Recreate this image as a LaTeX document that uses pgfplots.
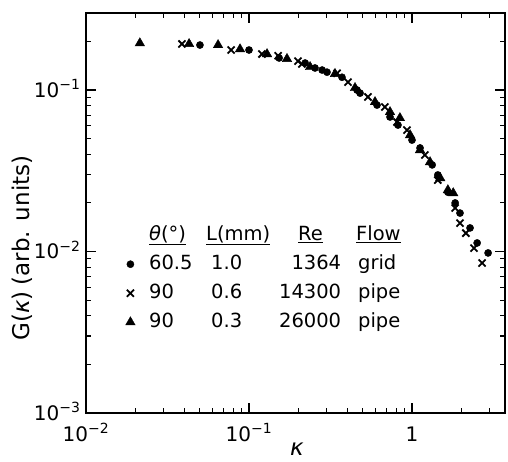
\documentclass[border=0pt]{standalone}
\usepackage{fontspec}
\setmainfont{DejaVu Sans}
\usepackage{pgfplots}
\pgfplotsset{compat=1.18}

% column boxes for the legend table
\newcommand{\cA}[1]{\makebox[62pt][l]{#1}}
\newcommand{\cB}[1]{\makebox[70pt][l]{#1}}
\newcommand{\cC}[1]{\makebox[60pt][r]{#1}}

\begin{document}
\begin{tikzpicture}
\path[use as bounding box] (-86pt,-48pt) rectangle (422pt,413pt);
\begin{axis}[
    scale only axis,
    width=419pt, height=400pt,
    xmode=log, ymode=log,
    xmin=0.01, xmax=3.72,
    ymin=1e-3, ymax=0.3,
    axis line style={line width=1.6pt},
    tick align=inside,
    major tick length=10pt, minor tick length=5pt,
    every tick/.style={black, line width=1.1pt},
    xtick={0.01,0.1,1},
    xticklabels={10\textsuperscript{−2},10\textsuperscript{−1},1},
    minor xtick={0.02,0.03,0.04,0.05,0.06,0.07,0.08,0.09,0.2,0.3,0.4,0.5,0.6,0.7,0.8,0.9,2,3},
    ytick={0.001,0.01,0.1},
    yticklabels={10\textsuperscript{−3},10\textsuperscript{−2},10\textsuperscript{−1}},
    minor ytick={0.002,0.003,0.004,0.005,0.006,0.007,0.008,0.009,0.02,0.03,0.04,0.05,0.06,0.07,0.08,0.09,0.2},
    xticklabel style={font=\fontsize{20}{24}\selectfont, anchor=base, yshift=-28pt},
    yticklabel style={font=\fontsize{20}{24}\selectfont, anchor=base east, xshift=-2pt, yshift=-7pt},
    xlabel={\itshape κ},
    xlabel style={font=\fontsize{23}{27}\selectfont, at={(axis description cs:0.5036,-0.09)}, anchor=center, inner sep=0pt},
    ylabel={G(\textit{κ})\hspace{6pt}(arb. units)},
    ylabel style={font=\fontsize{23}{27}\selectfont, at={(axis description cs:-0.1527,0.4125)}, anchor=center},
    legend cell align=left,
    legend style={at={(axis description cs:0.078,0.48)}, anchor=north west,
      draw=none, fill=none, font=\fontsize{19.5}{23}\selectfont,
      row sep=5pt,
      /tikz/every odd column/.append style={column sep=12pt},
      nodes={inner sep=2pt, text height=15pt, text depth=5pt}},
  ]

  \addlegendimage{empty legend}
  \addlegendentry{\makebox[57pt][l]{\underline{\textit{θ}(°)}}\makebox[92pt][l]{\underline{L(mm)}}\makebox[58pt][l]{\underline{Re}}\underline{Flow}}

  % grid flow, theta = 60.5
  \addplot[only marks, mark=*, mark size=3.6pt, black] coordinates {
    (0.0500,0.190) (0.100,0.177) (0.153,0.158) (0.221,0.147) (0.254,0.137)
    (0.281,0.133) (0.301,0.129) (0.372,0.120) (0.460,0.100) (0.480,0.0957)
    (0.610,0.0807) (0.733,0.0681) (0.820,0.0607) (1.00,0.0490) (1.12,0.0438)
    (1.33,0.0344) (1.44,0.0298) (1.66,0.0233) (1.84,0.0200) (1.97,0.0173)
    (2.27,0.0140) (2.51,0.0113) (2.93,0.00980)
  };
  \addlegendentry{\cA{60.5}\cB{1.0}\cC{1364}\hspace{17pt}grid}

  % pipe flow, Re = 14300
  \addplot[only marks, mark=x, mark size=5pt, line width=1.8pt, black] coordinates {
    (0.0388,0.193) (0.0777,0.177) (0.120,0.167) (0.151,0.163) (0.200,0.151)
    (0.211,0.145) (0.347,0.127) (0.405,0.112) (0.537,0.0906) (0.682,0.0785)
    (0.809,0.0634) (0.931,0.0565) (1.20,0.0396) (1.44,0.0277) (1.84,0.0186)
    (1.97,0.0150) (2.14,0.0130) (2.40,0.0105) (2.69,0.00849)
  };
  \addlegendentry{\cA{90}\cB{0.6}\cC{14300}\hspace{17pt}pipe}

  % pipe flow, Re = 26000
  \addplot[only marks, mark=triangle*, mark size=5.5pt, black] coordinates {
    (0.0214,0.195) (0.0429,0.193) (0.0646,0.190) (0.0881,0.179) (0.129,0.167)
    (0.171,0.156) (0.237,0.139) (0.337,0.126) (0.447,0.103) (0.593,0.0843)
    (0.733,0.0731) (0.843,0.0671) (0.973,0.0526) (1.12,0.0425) (1.29,0.0358)
    (1.49,0.0285) (1.66,0.0240) (1.79,0.0230)
  };
  \addlegendentry{\cA{90}\cB{0.3}\cC{26000}\hspace{17pt}pipe}

\end{axis}
\end{tikzpicture}
\end{document}
